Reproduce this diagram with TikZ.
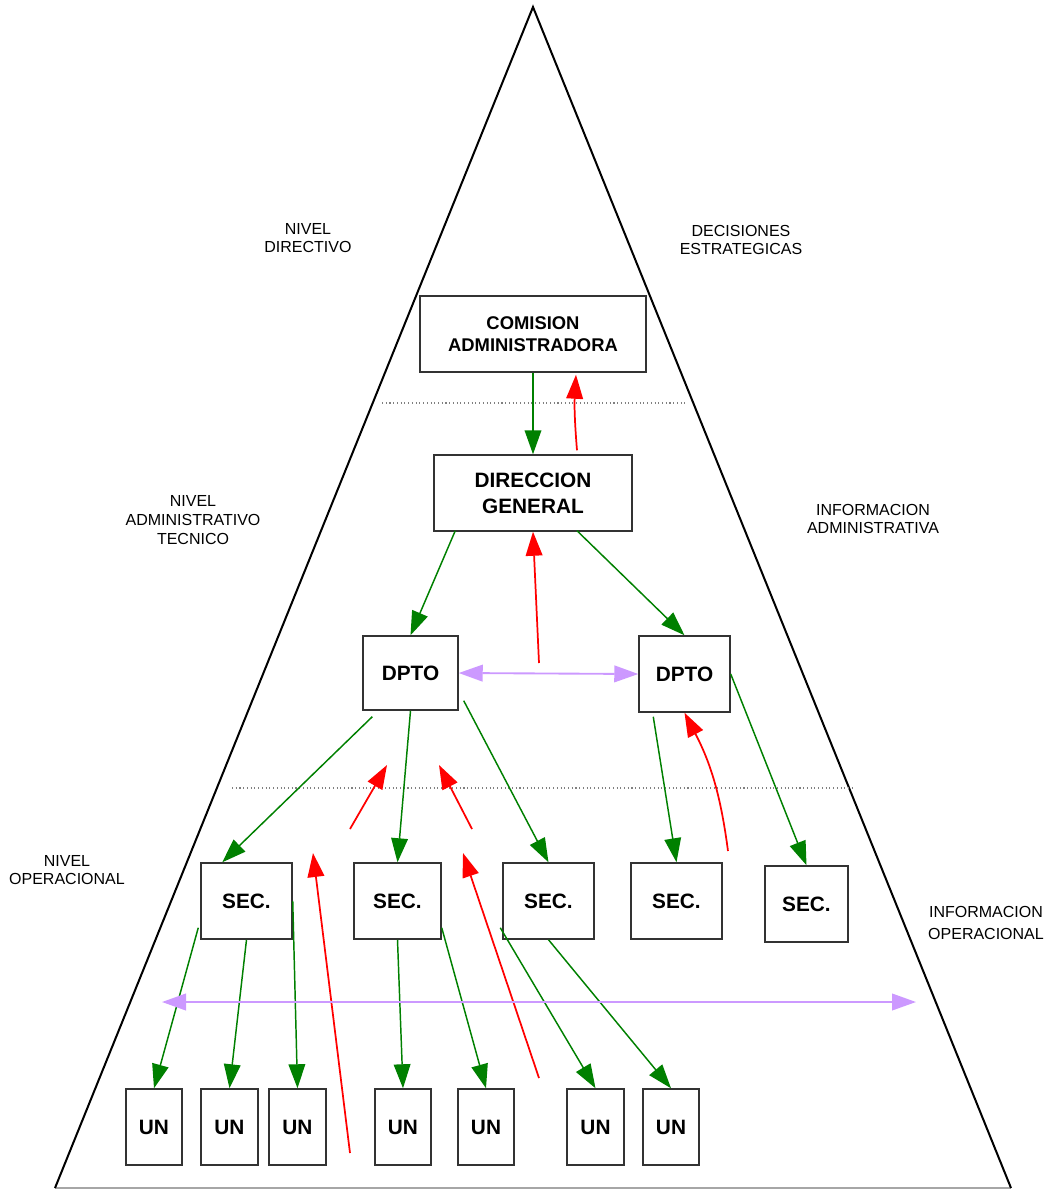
\documentclass[tikz,border=0pt]{standalone}
\usepackage{fontspec}
\setmainfont{Liberation Sans}
\usetikzlibrary{arrows.meta,calc}
\definecolor{grn}{RGB}{0,128,0}
\definecolor{rd}{RGB}{255,0,0}
\definecolor{lil}{RGB}{204,153,255}
\begin{document}
\begin{tikzpicture}[x=0.75pt,y=-0.75pt,
  box/.style={draw=black!80,line width=1.1pt,fill=white,inner sep=0pt,align=center,
    font=\bfseries\fontsize{15.6}{19.5}\selectfont},
  lbl/.style={align=center,font=\fontsize{12}{14}\selectfont,inner sep=0pt},
  tipa/.style={-{Triangle[length=18pt,width=12.5pt]}},
  gline/.style={draw=grn,line width=1.1pt,tipa},
  rline/.style={draw=rd,line width=1.3pt,tipa},
  pline/.style={draw=lil,line width=1.4pt,{Triangle[length=18pt,width=12.5pt]}-{Triangle[length=18pt,width=12.5pt]}},
  sep/.style={draw=black!50,dotted,line width=0.8pt}
]
\useasboundingbox (0,0) rectangle (1047,1190);

% pyramid
\coordinate (apex) at (533,7);
\coordinate (bl) at (55,1188);
\coordinate (br) at (1011,1188);
\draw[black!35,line width=1.2pt] (bl) -- (br);
\draw[black,line width=1.5pt] (bl) -- (apex) -- (br);

% separators
\draw[sep] (382,403) -- (688,403);
\draw[sep] (232,788) -- (855,788);

% labels
\node[lbl] (l1) at (308,238) {NIVEL\\DIRECTIVO};
\node[lbl] (l2) at (193,520) {NIVEL\\ADMINISTRATIVO\\TECNICO};
\node[lbl] (l3) at (67,870) {NIVEL\\OPERACIONAL};
\node[lbl] (r1) at (741,240) {DECISIONES\\ESTRATEGICAS};
\node[lbl] (r2) at (873,519) {INFORMACION\\ADMINISTRATIVA};
\node[lbl,font=\fontsize{12}{15.8}\selectfont] (r3) at (986,923) {INFORMACION\\OPERACIONAL};

% boxes
\node[box,minimum width=169.5pt,minimum height=57pt,font=\bfseries\fontsize{13.8}{16.5}\selectfont] (com) at (533,334) {COMISION\\ADMINISTRADORA};
\node[box,minimum width=148.5pt,minimum height=57pt] (dir) at (533,493) {DIRECCION\\GENERAL};
\node[box,minimum width=71.25pt,minimum height=55.5pt] (dptoL) at (410.5,673) {DPTO};
\node[box,minimum width=68.25pt,minimum height=57pt] (dptoR) at (684.5,674) {DPTO};

\node[box,minimum width=68.25pt,minimum height=57pt] (sec1) at (246.5,901) {SEC.};
\node[box,minimum width=65.25pt,minimum height=57pt] (sec2) at (397.5,901) {SEC.};
\node[box,minimum width=68.25pt,minimum height=57pt] (sec3) at (548.5,901) {SEC.};
\node[box,minimum width=68.25pt,minimum height=57pt] (sec4) at (676.5,901) {SEC.};
\node[box,minimum width=62.25pt,minimum height=57pt] (sec5) at (806.5,904) {SEC.};

\node[box,minimum width=42pt,minimum height=57pt] (un1) at (154,1127) {UN};
\node[box,minimum width=42.75pt,minimum height=57pt] (un2) at (229.5,1127) {UN};
\node[box,minimum width=42.75pt,minimum height=57pt] (un3) at (297.5,1127) {UN};
\node[box,minimum width=42pt,minimum height=57pt] (un4) at (403,1127) {UN};
\node[box,minimum width=42pt,minimum height=57pt] (un5) at (486,1127) {UN};
\node[box,minimum width=42.75pt,minimum height=57pt] (un6) at (595.5,1127) {UN};
\node[box,minimum width=42pt,minimum height=57pt] (un7) at (671,1127) {UN};

% free ends
\coordinate (rA) at (539,663);
\coordinate (rB1) at (350,829);
\coordinate (rB2) at (387,765);
\coordinate (rC1) at (472,829);
\coordinate (rC2) at (439,765);
\coordinate (rD) at (728,851);
\coordinate (rE1) at (350,1153);
\coordinate (rE2) at (313,853);
\coordinate (rF1) at (539,1078);
\coordinate (rF2) at (463,853);
\coordinate (pA) at (162,1002);
\coordinate (pB) at (916,1002);

% green (downward) connectors
\draw[gline] (com.south) -- (dir.north);
\draw[gline] ($(dir.south west)+(22,-1)$) -- (dptoL.north);
\draw[gline] ($(dir.south)+(44,-1)$) -- (dptoR.north);
\draw[gline] ($(dptoL.south west)+(10,6)$) -- ($(sec1.north west)+(22,0)$);
\draw[gline] (dptoL.south) -- (sec2.north);
\draw[gline] ($(dptoL.south east)+(5,-10)$) -- (sec3.north);
\draw[gline] ($(dptoR.south west)+(15,4)$) -- (sec4.north);
\draw[gline] (dptoR.east) -- (sec5.north);
\draw[gline] ($(sec1.south west)+(-2,-12)$) -- (un1.north);
\draw[gline] (sec1.south) -- (un2.north);
\draw[gline] (sec1.east) -- (un3.north);
\draw[gline] (sec2.south) -- (un4.north);
\draw[gline] ($(sec2.south east)+(0,-12)$) -- (un5.north);
\draw[gline] ($(sec3.south west)+(-2,-12)$) -- (un6.north);
\draw[gline] (sec3.south) -- (un7.north);

% red (upward) connectors
\draw[rline] ($(dir.north)+(44,-4)$) to[bend left=4] ($(com.south)+(43,2)$);
\draw[rline] (rA) -- (dir.south);
\draw[rline] (rB1) -- (rB2);
\draw[rline] (rC1) -- (rC2);
\draw[rline] (rD) to[bend right=10] (dptoR.south);
\draw[rline] (rE1) -- (rE2);
\draw[rline] (rF1) -- (rF2);

% lilac (horizontal) connectors
\draw[pline] (dptoL.east) -- (dptoR.west);
\draw[pline] (pA) -- (pB);
\end{tikzpicture}
\end{document}
